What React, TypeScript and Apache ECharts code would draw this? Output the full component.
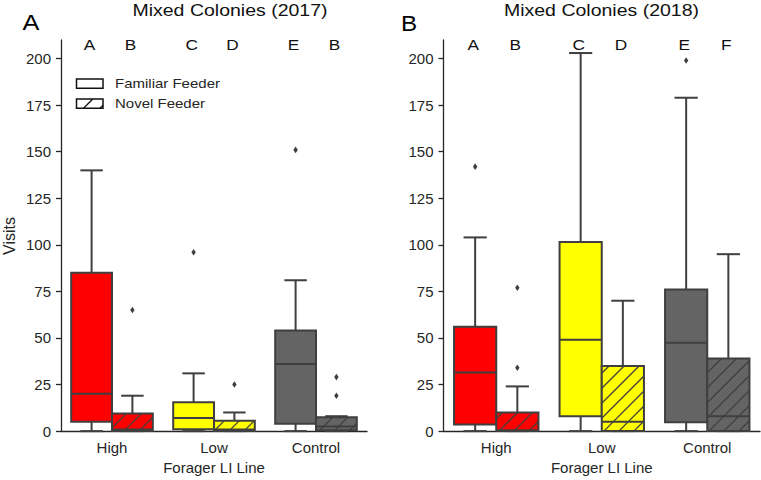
import React, { useEffect, useRef } from "react";
import * as echarts from "echarts";

const categories = ["High", "Low", "Control"];
const hueNames = ["Familiar Feeder", "Novel Feeder"];
const yTicks = [0, 25, 50, 75, 100, 125, 150, 175, 200];
const yMax = 210;
const letterLevel = 207.5;
const fillColors = ["#ff0000", "#ffff00", "#646464"];

// [category, hue(0 familiar / 1 novel), min, q1, median, q3, max]
const boxes2017 = [
  [0, 0, 0, 5, 20, 85, 140],
  [0, 1, 0, 0, 0.8, 9.5, 19],
  [1, 0, 0, 1, 7, 15.5, 31],
  [1, 1, 0, 0, 0.8, 5.5, 10],
  [2, 0, 0, 4, 36, 54, 81],
  [2, 1, 0, 0.5, 2.5, 7.5, 8],
];
// [category, hue, value]
const outliers2017 = [
  [0, 1, 65],
  [1, 0, 96],
  [1, 1, 25],
  [2, 0, 151],
  [2, 1, 29],
  [2, 1, 19],
];
const letters2017 = ["A", "B", "C", "D", "E", "B"];

const boxes2018 = [
  [0, 0, 0, 3.6, 31.5, 56, 104],
  [0, 1, 0, 0, 0.5, 10, 24],
  [1, 0, 0, 8, 49, 101.5, 203],
  [1, 1, 0, 0, 5, 35, 70],
  [2, 0, 0, 4.8, 47.5, 76, 179],
  [2, 1, 0, 0, 8, 39, 95],
];
const outliers2018 = [
  [0, 0, 142],
  [0, 1, 77],
  [0, 1, 34],
  [2, 0, 199],
];
const letters2018 = ["A", "B", "C", "D", "E", "F"];

const EDGE = "#3f3f3f";
const AXIS = "#262626";
const FONT = "Arial, 'Liberation Sans', sans-serif";
const HATCH = 15;

function hatchSegments(x0: number, y0: number, x1: number, y1: number) {
  const segs: number[][] = [];
  const start = Math.ceil((x0 + y0) / HATCH) * HATCH;
  for (let c = start; c <= x1 + y1; c += HATCH) {
    const xa = Math.max(x0, c - y1);
    const xb = Math.min(x1, c - y0);
    if (xb - xa > 0.5) segs.push([xa, c - xa, xb, c - xb]);
  }
  return segs;
}

function boxGeom(api: any, cat: number, hue: number) {
  const band = api.size([1, 0])[0];
  const w = band * 0.4;
  const cx = api.coord([cat, 0])[0];
  const left = cx - w + hue * w;
  return { left, w, mid: left + w / 2 };
}

const renderBox = (params: any, api: any) => {
  const cat = api.value(0);
  const hue = api.value(1);
  const { left, w, mid } = boxGeom(api, cat, hue);
  const yMin = api.coord([cat, api.value(2)])[1];
  const yQ1 = api.coord([cat, api.value(3)])[1];
  const yMed = api.coord([cat, api.value(4)])[1];
  const yQ3 = api.coord([cat, api.value(5)])[1];
  const yMx = api.coord([cat, api.value(6)])[1];
  const cap = w * 0.55;
  const ls = { stroke: EDGE, lineWidth: 2 };
  const children: any[] = [];
  children.push({ type: "line", shape: { x1: mid, y1: yQ3, x2: mid, y2: yMx }, style: ls });
  children.push({ type: "line", shape: { x1: mid - cap / 2, y1: yMx, x2: mid + cap / 2, y2: yMx }, style: ls });
  children.push({ type: "line", shape: { x1: mid, y1: yQ1, x2: mid, y2: yMin }, style: ls });
  children.push({ type: "line", shape: { x1: mid - cap / 2, y1: yMin, x2: mid + cap / 2, y2: yMin }, style: ls });
  children.push({
    type: "rect",
    shape: { x: left, y: yQ3, width: w, height: yQ1 - yQ3 },
    style: { fill: fillColors[cat], stroke: "none" },
  });
  if (hue === 1) {
    hatchSegments(left, yQ3, left + w, yQ1).forEach((s) =>
      children.push({
        type: "line",
        shape: { x1: s[0], y1: s[1], x2: s[2], y2: s[3] },
        style: { stroke: EDGE, lineWidth: 1.3 },
      })
    );
  }
  children.push({ type: "line", shape: { x1: left, y1: yMed, x2: left + w, y2: yMed }, style: ls });
  children.push({
    type: "rect",
    shape: { x: left, y: yQ3, width: w, height: yQ1 - yQ3 },
    style: { fill: "none", stroke: EDGE, lineWidth: 2 },
  });
  return { type: "group", children };
};

const renderOutlier = (params: any, api: any) => {
  const cat = api.value(0);
  const hue = api.value(1);
  const { mid } = boxGeom(api, cat, hue);
  const y = api.coord([cat, api.value(2)])[1];
  return {
    type: "polygon",
    shape: { points: [[mid, y - 3.3], [mid + 2.2, y], [mid, y + 3.3], [mid - 2.2, y]] },
    style: { fill: EDGE, stroke: "none" },
  };
};

const makeLetterRenderer = (letters: string[]) => (params: any, api: any) => {
  const cat = api.value(0);
  const hue = api.value(1);
  const { mid } = boxGeom(api, cat, hue);
  const y = api.coord([cat, letterLevel])[1];
  return {
    type: "text",
    x: mid - 2,
    y,
    scaleX: 1.15,
    style: {
      text: letters[params.dataIndex],
      textAlign: "center",
      align: "center",
      textVerticalAlign: "middle",
      verticalAlign: "middle",
      fontSize: 15,
      fontFamily: FONT,
      fill: "#111",
    },
  };
};

function xAxisOf(gridIndex: number) {
  return {
    type: "category",
    gridIndex,
    data: categories,
    axisLine: { lineStyle: { color: AXIS, width: 1.3 } },
    axisTick: { alignWithLabel: true, length: 5, lineStyle: { color: AXIS, width: 1.3 } },
    axisLabel: { color: AXIS, fontSize: 15, fontFamily: FONT, margin: 9 },
    name: "Forager LI Line",
    nameLocation: "middle",
    nameGap: 28,
    nameTextStyle: { color: AXIS, fontSize: 15, fontFamily: FONT },
    splitLine: { show: false },
  };
}

function yAxisOf(gridIndex: number) {
  return {
    type: "value",
    gridIndex,
    min: 0,
    max: yMax,
    axisLine: { show: true, lineStyle: { color: AXIS, width: 1.3 } },
    axisTick: { show: true, length: 5, customValues: yTicks, lineStyle: { color: AXIS, width: 1.3 } },
    axisLabel: { color: AXIS, fontSize: 15, fontFamily: FONT, margin: 10, customValues: yTicks },
    splitLine: { show: false },
  };
}

const letterData = (n: number) => boxes2017.slice(0, n).map((b) => [b[0], b[1]]);

export default function App() {
  const ref = useRef<HTMLDivElement>(null);
  useEffect(() => {
    if (!ref.current) return;
    const chart = echarts.init(ref.current, undefined, { renderer: "svg" });
    const legendHatch = [
      [83.5, 108.3, 92.8, 99],
      [100, 108.3, 103, 105.3],
    ];
    chart.setOption({
      animation: false,
      backgroundColor: "#ffffff",
      grid: [
        { left: 61, right: 394, top: 40, bottom: 48.3 },
        { left: 443.5, right: 1, top: 40, bottom: 48.3 },
      ],
      xAxis: [xAxisOf(0), xAxisOf(1)],
      yAxis: [yAxisOf(0), yAxisOf(1)],
      series: [
        { type: "custom", name: "2017 boxes", xAxisIndex: 0, yAxisIndex: 0, data: boxes2017, renderItem: renderBox, clip: false },
        { type: "custom", name: "2017 outliers", xAxisIndex: 0, yAxisIndex: 0, data: outliers2017, renderItem: renderOutlier, clip: false },
        { type: "custom", name: "2017 letters", xAxisIndex: 0, yAxisIndex: 0, data: letterData(6), renderItem: makeLetterRenderer(letters2017), clip: false },
        { type: "custom", name: "2018 boxes", xAxisIndex: 1, yAxisIndex: 1, data: boxes2018, renderItem: renderBox, clip: false },
        { type: "custom", name: "2018 outliers", xAxisIndex: 1, yAxisIndex: 1, data: outliers2018, renderItem: renderOutlier, clip: false },
        { type: "custom", name: "2018 letters", xAxisIndex: 1, yAxisIndex: 1, data: letterData(6), renderItem: makeLetterRenderer(letters2018), clip: false },
      ],
      graphic: [
        {
          type: "text", x: 230, y: 11, scaleX: 1.22,
          style: { text: "Mixed Colonies (2017)", textAlign: "center", align: "center", textVerticalAlign: "middle", verticalAlign: "middle", fontSize: 16, fontFamily: FONT, fill: "#111" },
        },
        {
          type: "text", x: 601.5, y: 11, scaleX: 1.22,
          style: { text: "Mixed Colonies (2018)", textAlign: "center", align: "center", textVerticalAlign: "middle", verticalAlign: "middle", fontSize: 16, fontFamily: FONT, fill: "#111" },
        },
        {
          type: "text", x: 31, y: 23, scaleX: 1.15,
          style: { text: "A", textAlign: "center", align: "center", textVerticalAlign: "middle", verticalAlign: "middle", fontSize: 22, fontFamily: FONT, fill: "#000" },
        },
        {
          type: "text", x: 409, y: 23, scaleX: 1.1,
          style: { text: "B", textAlign: "center", align: "center", textVerticalAlign: "middle", verticalAlign: "middle", fontSize: 22, fontFamily: FONT, fill: "#000" },
        },
        {
          type: "text", x: 9.5, y: 236, rotation: Math.PI / 2,
          style: { text: "Visits", textAlign: "center", align: "center", textVerticalAlign: "middle", verticalAlign: "middle", fontSize: 16, fontFamily: FONT, fill: AXIS },
        },
        { type: "rect", shape: { x: 76.5, y: 79, width: 26.5, height: 9.3 }, style: { fill: "#fff", stroke: "#111", lineWidth: 1.5 } },
        { type: "rect", shape: { x: 76.5, y: 99, width: 26.5, height: 9.3 }, style: { fill: "#fff", stroke: "#111", lineWidth: 1.5 } },
        ...legendHatch.map((s) => ({
          type: "line", shape: { x1: s[0], y1: s[1], x2: s[2], y2: s[3] }, style: { stroke: "#111", lineWidth: 1.3 },
        })),
        {
          type: "text", x: 115, y: 84, scaleX: 1.2,
          style: { text: hueNames[0], textAlign: "left", align: "left", textVerticalAlign: "middle", verticalAlign: "middle", fontSize: 12.5, fontFamily: FONT, fill: AXIS },
        },
        {
          type: "text", x: 115, y: 104, scaleX: 1.2,
          style: { text: hueNames[1], textAlign: "left", align: "left", textVerticalAlign: "middle", verticalAlign: "middle", fontSize: 12.5, fontFamily: FONT, fill: AXIS },
        },
      ],
    });
    return () => chart.dispose();
  }, []);
  return (
    <div
      ref={ref}
      style={{ position: "fixed", left: 0, top: 0, width: 761, height: 480, background: "#fff" }}
    />
  );
}
